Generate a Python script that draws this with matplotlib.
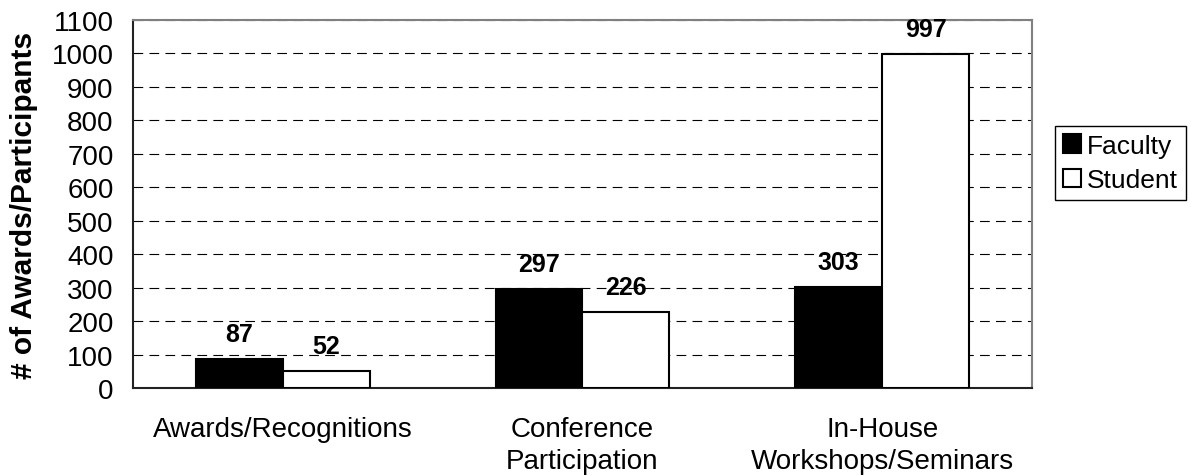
import numpy as np
import matplotlib
matplotlib.use("Agg")
import matplotlib.pyplot as plt

plt.rcParams['font.family'] = ['Liberation Sans', 'DejaVu Sans']
plt.rcParams['lines.scale_dashes'] = False

categories = ["Awards/Recognitions", "Conference\nParticipation", "In-House\nWorkshops/Seminars"]
faculty = [87, 297, 303]
student = [52, 226, 997]
series_names = ["Faculty", "Student"]
y_ticks = list(range(0, 1101, 100))

fig = plt.figure(figsize=(11.94, 4.77), dpi=100)
ax = fig.add_axes([0.1114, 0.1845, 0.7529, 0.7715])

x = np.arange(len(categories))
w = 0.29
b1 = ax.bar(x - w / 2, faculty, w, color="black", edgecolor="black",
            linewidth=1.5, label=series_names[0], zorder=3)
b2 = ax.bar(x + w / 2, student, w, color="white", edgecolor="black",
            linewidth=1.5, label=series_names[1], zorder=3)

for bars, vals in ((b1, faculty), (b2, student)):
    for rect, v in zip(bars, vals):
        ax.annotate(str(v), (rect.get_x() + rect.get_width() / 2, v),
                    xytext=(0, 13), textcoords="offset points",
                    ha="center", va="baseline", fontsize=18,
                    fontweight="bold", zorder=4)

ax.set_xlim(-0.5, len(categories) - 0.5)
ax.set_ylim(0, 1100)
ax.set_yticks(y_ticks)
ax.set_xticks(x)
ax.set_xticklabels(categories, linespacing=1.3)
ax.tick_params(axis="both", length=0, labelsize=20)
ax.tick_params(axis="y", pad=14)
ax.tick_params(axis="x", pad=20)

ax.yaxis.grid(True, color="black", linewidth=0.8, linestyle=(0, (7, 4.5)), zorder=0)
ax.set_axisbelow(True)

for side in ("left", "bottom"):
    ax.spines[side].set_color("#222222")
    ax.spines[side].set_linewidth(1.5)
for side in ("top", "right"):
    ax.spines[side].set_color("#808080")
    ax.spines[side].set_linewidth(1.5)

ax.set_ylabel("# of Awards/Participants", fontsize=21.5, fontweight="bold", labelpad=10)

leg = fig.legend(loc="center left", bbox_to_anchor=(0.8836, 0.656),
                 fontsize=19, handlelength=0.7, handleheight=0.7,
                 handletextpad=0.2, borderpad=0.3, labelspacing=0.4,
                 borderaxespad=0, fancybox=False, edgecolor="black",
                 framealpha=1)
leg.get_frame().set_linewidth(1.0)
for h in leg.legend_handles:
    h.set_linewidth(1.5)

fig.savefig("out.png", dpi=100)
